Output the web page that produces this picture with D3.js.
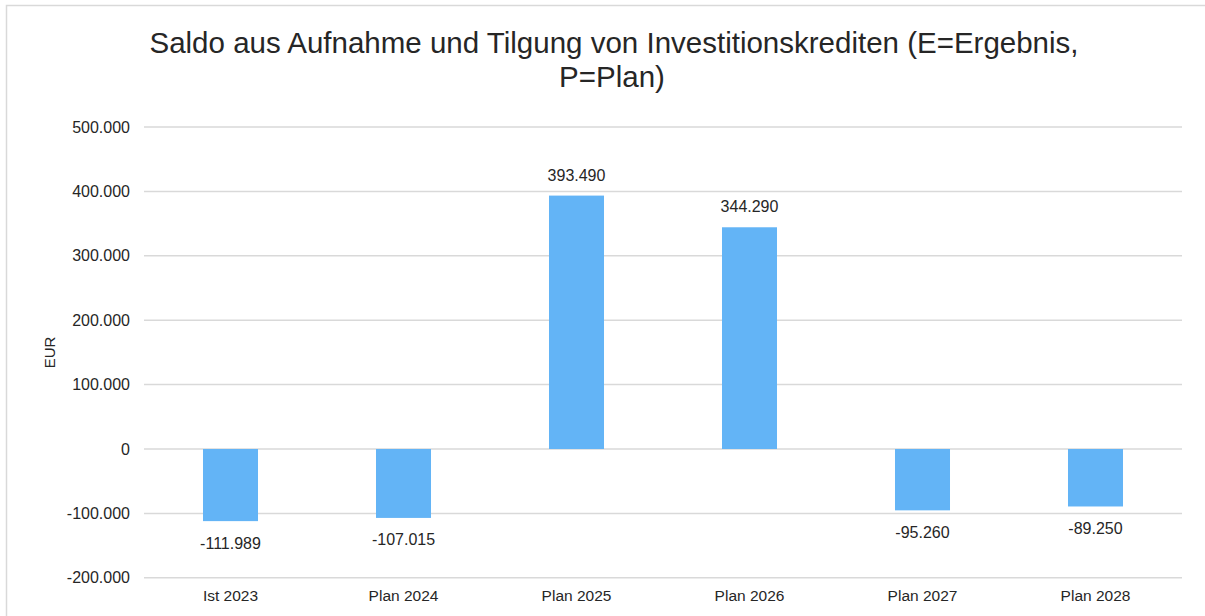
<!DOCTYPE html>
<html lang="en">
<head>
<meta charset="UTF-8">
<title>Saldo Investitionskredite</title>
<script src="https://d3js.org/d3.v7.min.js"></script>
<style>
    body { margin: 0; background: #fff; }
    svg text { font-family: "Liberation Sans", Arial, sans-serif; fill: #262626; }
</style>
</head>
<body>
<svg id="chart" width="1205" height="616"></svg>
<script>
    // data
    let categories = ["Ist 2023", "Plan 2024", "Plan 2025", "Plan 2026", "Plan 2027", "Plan 2028"];
    let values = [-111989, -107015, 393490, 344290, -95260, -89250];
    let yTicks = [-200000, -100000, 0, 100000, 200000, 300000, 400000, 500000];

    let de = d3.formatLocale({decimal: ",", thousands: ".", grouping: [3], currency: ["", " €"], minus: "-"});
    let fmt = de.format(",d");

    let svg = d3.select("#chart");
    let margin = {left: 144, right: 1182, top: 127, bottom: 577.8};

    // chart border (right and bottom edges fall outside the picture)
    svg.append("rect")
        .attr("x", 6.5).attr("y", 5.5)
        .attr("width", 1210).attr("height", 620)
        .attr("fill", "none")
        .attr("stroke", "#d9d9d9")
        .attr("stroke-width", 1.5);

    let x = d3.scaleBand()
        .domain(categories)
        .range([margin.left, margin.right])
        .paddingInner(0.682)
        .paddingOuter(0.341);

    let y = d3.scaleLinear()
        .domain([-200000, 500000])
        .range([margin.bottom, margin.top]);

    // gridlines
    svg.append("g")
        .selectAll("line")
        .data(yTicks)
        .join("line")
        .attr("x1", margin.left).attr("x2", margin.right)
        .attr("y1", d => y(d)).attr("y2", d => y(d))
        .attr("stroke", "#d9d9d9")
        .attr("stroke-width", 1.5);

    // y tick labels
    svg.append("g")
        .selectAll("text")
        .data(yTicks)
        .join("text")
        .attr("x", 130)
        .attr("y", d => y(d) + 5.5)
        .attr("text-anchor", "end")
        .style("font-size", "16px")
        .text(d => fmt(d));

    // bars
    svg.append("g")
        .selectAll("rect")
        .data(values)
        .join("rect")
        .attr("x", (d, i) => x(categories[i]))
        .attr("width", x.bandwidth())
        .attr("y", d => Math.min(y(d), y(0)))
        .attr("height", d => Math.abs(y(d) - y(0)))
        .attr("fill", "#63b4f6");

    // data labels
    svg.append("g")
        .selectAll("text")
        .data(values)
        .join("text")
        .attr("x", (d, i) => x(categories[i]) + x.bandwidth() / 2)
        .attr("y", d => d >= 0 ? y(d) - 15 : y(d) + 27.5)
        .attr("text-anchor", "middle")
        .style("font-size", "16px")
        .text(d => fmt(d));

    // x labels
    svg.append("g")
        .selectAll("text")
        .data(categories)
        .join("text")
        .attr("x", d => x(d) + x.bandwidth() / 2)
        .attr("y", 601)
        .attr("text-anchor", "middle")
        .style("font-size", "15.5px")
        .text(d => d);

    // y axis title
    svg.append("text")
        .attr("transform", "translate(55," + ((margin.top + margin.bottom) / 2) + ") rotate(-90)")
        .attr("text-anchor", "middle")
        .style("font-size", "15px")
        .text("EUR");

    // title
    let title = svg.append("text")
        .attr("text-anchor", "middle")
        .style("font-size", "29.5px");
    title.append("tspan").attr("x", 614).attr("y", 53)
        .text("Saldo aus Aufnahme und Tilgung von Investitionskrediten (E=Ergebnis,");
    title.append("tspan").attr("x", 612).attr("y", 87)
        .text("P=Plan)");
</script>
</body>
</html>
